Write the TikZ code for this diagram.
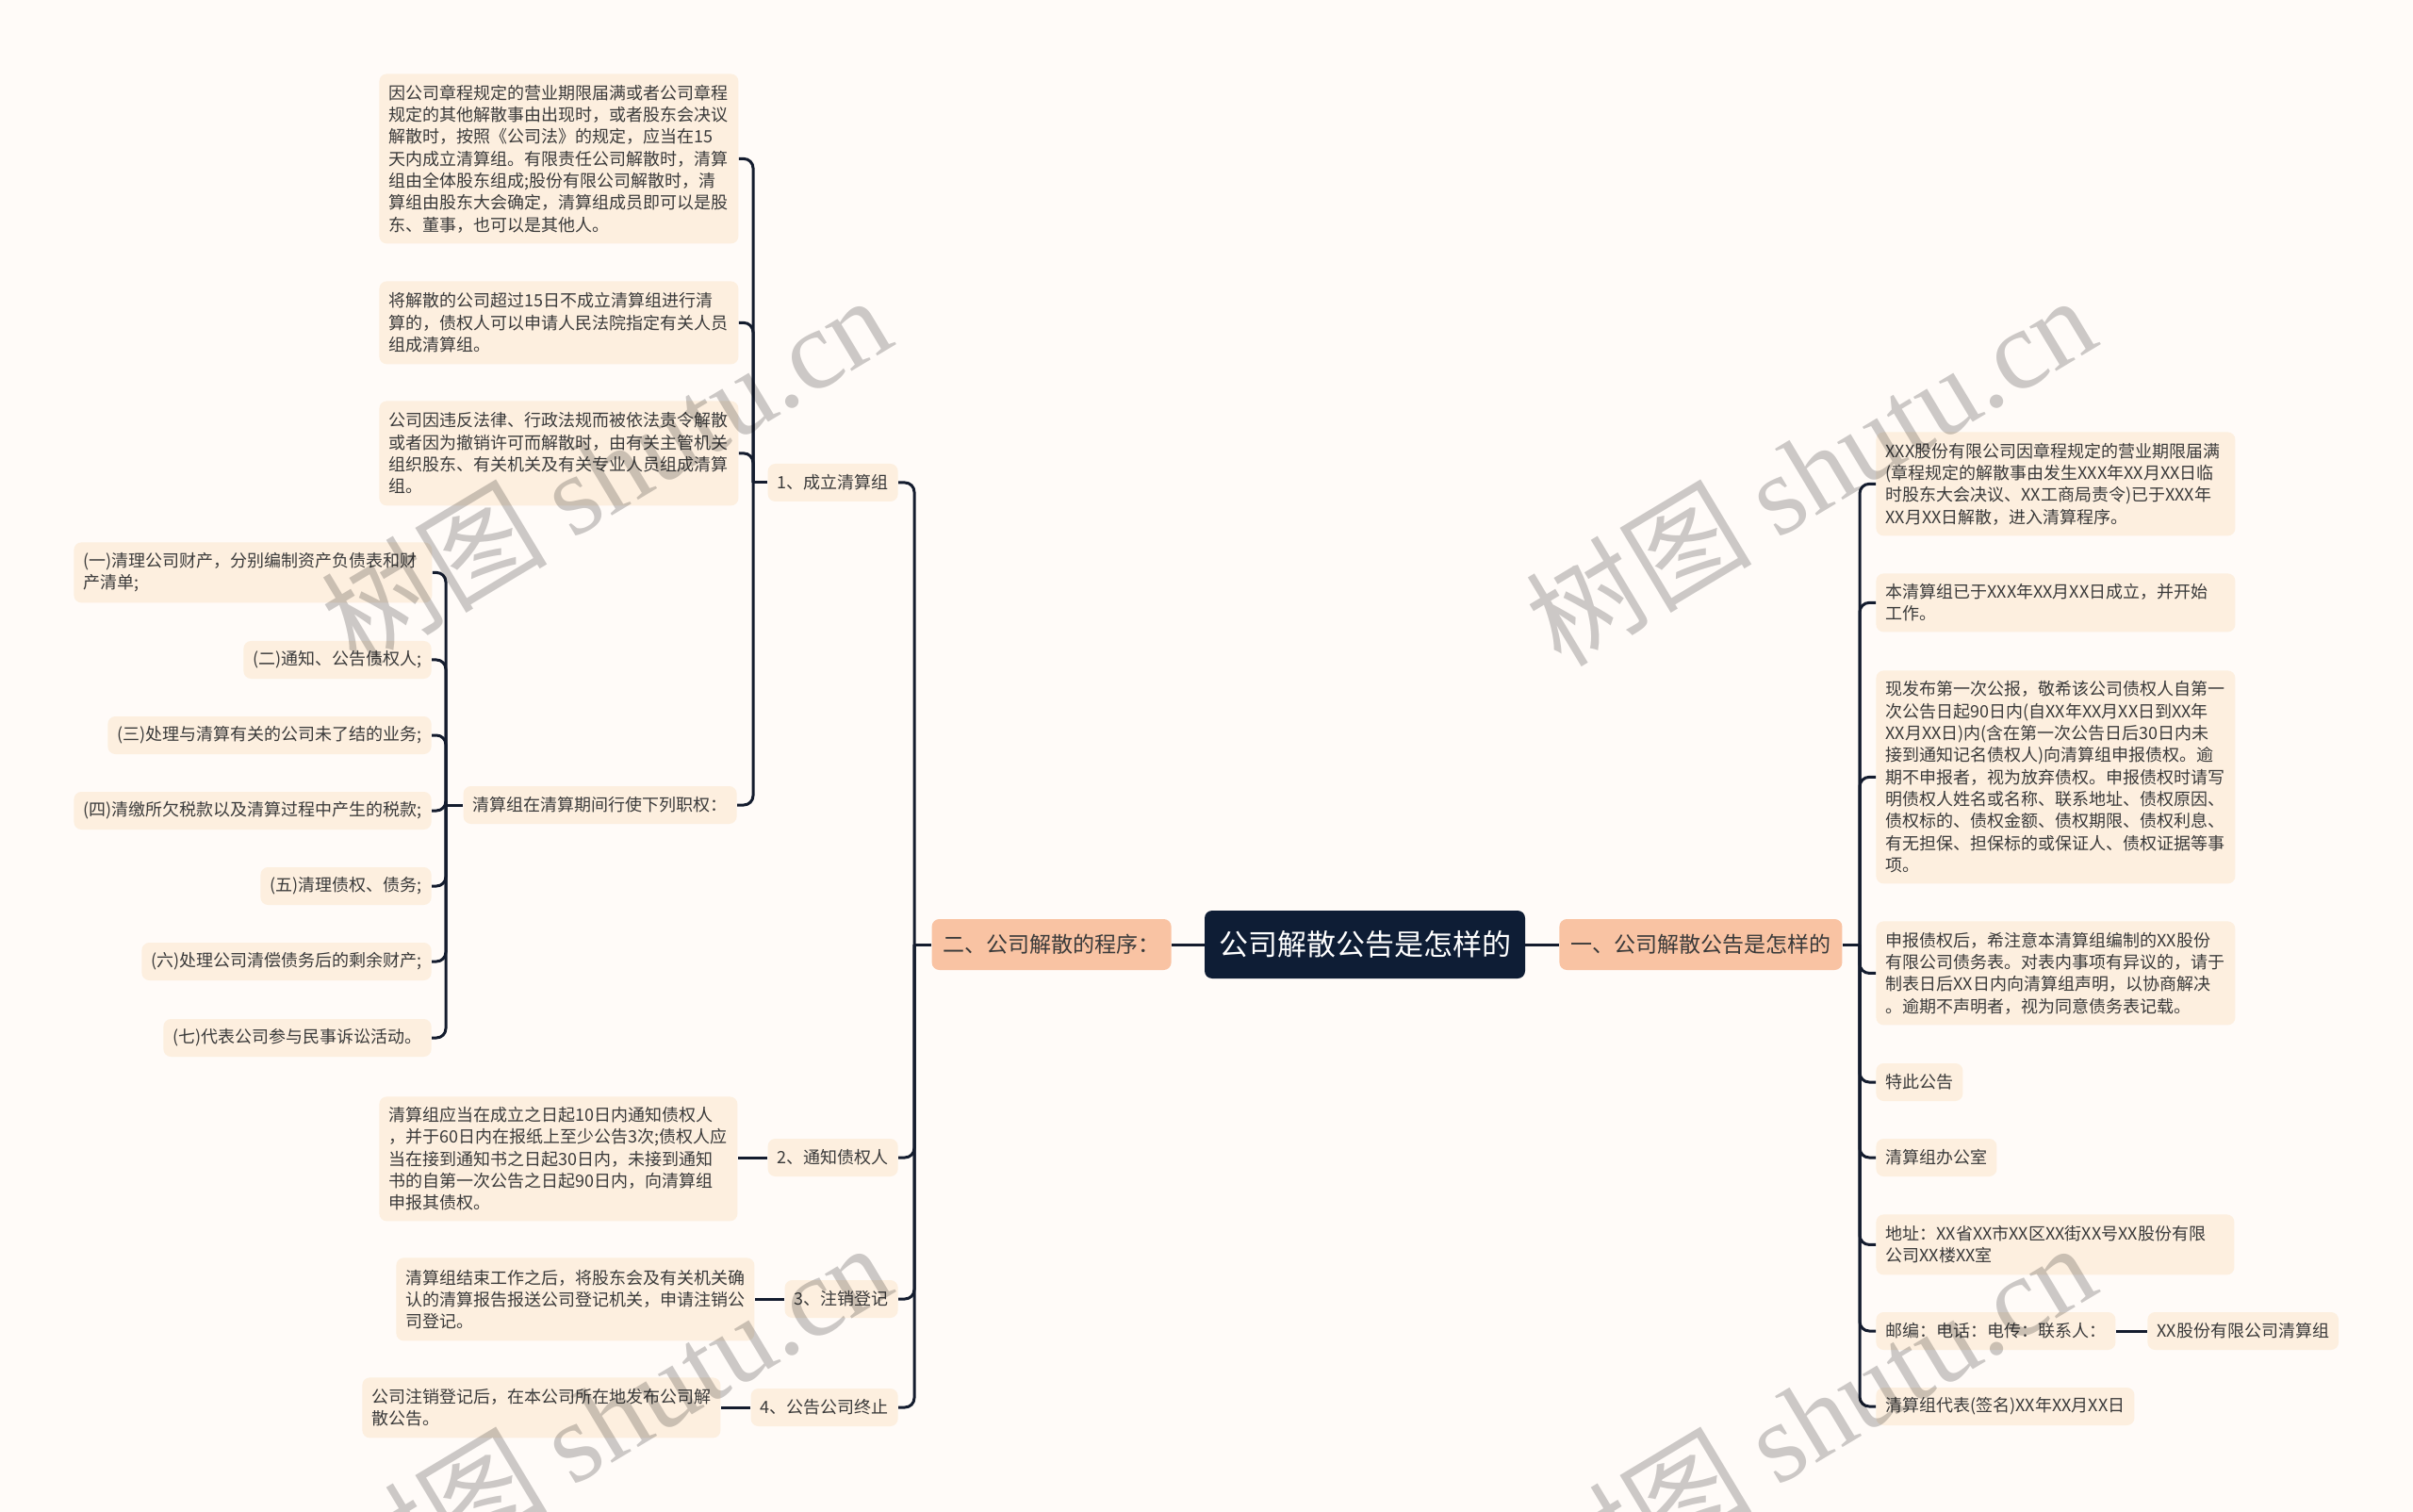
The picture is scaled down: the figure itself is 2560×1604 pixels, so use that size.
\documentclass[tikz,border=0pt]{standalone}
\usepackage{fontspec}
\setmainfont{Noto Sans CJK SC}
\newfontfamily\wmlatin{Liberation Serif}
\definecolor{bgc}{HTML}{FFFBF8}
\definecolor{leafc}{HTML}{FDEFDF}
\definecolor{lonec}{HTML}{F9C3A3}
\definecolor{rootc}{HTML}{0E1D35}
\definecolor{linec}{HTML}{141C2E}
\definecolor{txtc}{HTML}{3A3A3A}
\tikzset{
  leaf/.style={fill=leafc, rounded corners=4pt, inner xsep=5pt, inner ysep=3pt, text=txtc,
    font=\fontsize{9pt}{11.67pt}\selectfont, align=left, minimum height=20pt},
  lone/.style={fill=lonec, rounded corners=4pt, inner xsep=6pt, text=txtc,
    font=\fontsize{11.5pt}{14pt}\selectfont, minimum height=27pt},
  rootbox/.style={fill=rootc, rounded corners=4pt, inner xsep=7.5pt, text=white,
    font=\fontsize{15.5pt}{18pt}\selectfont, minimum height=36pt},
  conn/.style={draw=linec, line width=1.5pt, rounded corners=5pt},
  wm/.style={text=black, opacity=0.2, rotate=31, anchor=base, font=\fontsize{60pt}{62pt}\selectfont}
}
\begin{document}
\begin{tikzpicture}[x=0.5pt, y=-0.5pt]
\useasboundingbox (0,0) rectangle (2560,1604);
\clip (0,0) rectangle (2560,1604);
\fill[bgc] (0,0) rectangle (2560,1604);

% root and level one
\node[rootbox] (root) at (1448,1002) {公司解散公告是怎样的};
\node[lone, anchor=east] (L) at (1243,1002) {二、公司解散的程序：};
\node[lone, anchor=west] (R) at (1654,1002) {一、公司解散公告是怎样的};

% left side, level two
\node[leaf, anchor=east] (n1) at (953,512) {1、成立清算组};
\node[leaf, anchor=east] (n2) at (953,1228) {2、通知债权人};
\node[leaf, anchor=east] (n3) at (953,1378) {3、注销登记};
\node[leaf, anchor=east] (n4) at (953,1493) {4、公告公司终止};

% children of 1
\node[leaf, anchor=north west, text width=180.5pt, minimum height=90pt] (A1) at (402,78)
 {因公司章程规定的营业期限届满或者公司章程\\规定的其他解散事由出现时，或者股东会决议\\解散时，按照《公司法》的规定，应当在15\\天内成立清算组。有限责任公司解散时，清算\\组由全体股东组成;股份有限公司解散时，清\\算组由股东大会确定，清算组成员即可以是股\\东、董事，也可以是其他人。};
\node[leaf, anchor=north west, text width=180.5pt, minimum height=44pt] (A2) at (402,298)
 {将解散的公司超过15日不成立清算组进行清\\算的，债权人可以申请人民法院指定有关人员\\组成清算组。};
\node[leaf, anchor=north west, text width=180.5pt, minimum height=55.5pt] (A3) at (402,425)
 {公司因违反法律、行政法规而被依法责令解散\\或者因为撤销许可而解散时，由有关主管机关\\组织股东、有关机关及有关专业人员组成清算\\组。};
\node[leaf, anchor=east] (E) at (782,854) {清算组在清算期间行使下列职权：};

% children of E
\node[leaf, anchor=north west, text width=180pt, minimum height=32pt] (B1) at (78,575)
 {(一)清理公司财产，分别编制资产负债表和财\\产清单;};
\node[leaf, anchor=east] (B2) at (458,700) {(二)通知、公告债权人;};
\node[leaf, anchor=east] (B3) at (458,780) {(三)处理与清算有关的公司未了结的业务;};
\node[leaf, anchor=east] (B4) at (458,860) {(四)清缴所欠税款以及清算过程中产生的税款;};
\node[leaf, anchor=east] (B5) at (458,940) {(五)清理债权、债务;};
\node[leaf, anchor=east] (B6) at (458,1020) {(六)处理公司清偿债务后的剩余财产;};
\node[leaf, anchor=east] (B7) at (458,1101) {(七)代表公司参与民事诉讼活动。};

% children of 2,3,4
\node[leaf, anchor=north west, text width=180pt, minimum height=66pt] (C1) at (402,1163)
 {清算组应当在成立之日起10日内通知债权人\\，并于60日内在报纸上至少公告3次;债权人应\\当在接到通知书之日起30日内，未接到通知\\书的自第一次公告之日起90日内，向清算组\\申报其债权。};
\node[leaf, anchor=north west, text width=180pt, minimum height=44pt] (C2) at (420,1334)
 {清算组结束工作之后，将股东会及有关机关确\\认的清算报告报送公司登记机关，申请注销公\\司登记。};
\node[leaf, anchor=north west, text width=180pt, minimum height=32pt] (C3) at (384,1461)
 {公司注销登记后，在本公司所在地发布公司解\\散公告。};

% right side
\node[leaf, anchor=north west, text width=180.5pt, minimum height=55pt] (D1) at (1990,458)
 {XXX股份有限公司因章程规定的营业期限届满\\(章程规定的解散事由发生XXX年XX月XX日临\\时股东大会决议、XX工商局责令)已于XXX年\\XX月XX日解散，进入清算程序。};
\node[leaf, anchor=north west, text width=180.5pt, minimum height=31pt] (D2) at (1990,608)
 {本清算组已于XXX年XX月XX日成立，并开始\\工作。};
\node[leaf, anchor=north west, text width=180.5pt, minimum height=113pt] (D3) at (1990,711)
 {现发布第一次公报，敬希该公司债权人自第一\\次公告日起90日内(自XX年XX月XX日到XX年\\XX月XX日)内(含在第一次公告日后30日内未\\接到通知记名债权人)向清算组申报债权。逾\\期不申报者，视为放弃债权。申报债权时请写\\明债权人姓名或名称、联系地址、债权原因、\\债权标的、债权金额、债权期限、债权利息、\\有无担保、担保标的或保证人、债权证据等事\\项。};
\node[leaf, anchor=north west, text width=180.5pt, minimum height=55pt] (D4) at (1990,977)
 {申报债权后，希注意本清算组编制的XX股份\\有限公司债务表。对表内事项有异议的，请于\\制表日后XX日内向清算组声明，以协商解决\\。逾期不声明者，视为同意债务表记载。};
\node[leaf, anchor=west] (D5) at (1990,1148) {特此公告};
\node[leaf, anchor=west] (D6) at (1990,1228) {清算组办公室};
\node[leaf, anchor=north west, text width=180pt, minimum height=32pt] (D7) at (1990,1288)
 {地址：XX省XX市XX区XX街XX号XX股份有限\\公司XX楼XX室};
\node[leaf, anchor=west] (D8) at (1990,1412) {邮编：电话：电传：联系人：};
\node[leaf, anchor=west] (D8b) at (2278,1412) {XX股份有限公司清算组};
\node[leaf, anchor=west] (D9) at (1990,1492) {清算组代表(签名)XX年XX月XX日};

% bracket columns
\coordinate (bL) at (970,0);
\coordinate (b1) at (799,0);
\coordinate (bE) at (473,0);
\coordinate (bR) at (1973,0);

% connectors
\draw[conn] (root.west) -- (L.east);
\draw[conn] (root.east) -- (R.west);

\draw[conn] (L.west) -- (L.west -| bL);
\foreach \c in {n1,n2,n3,n4} { \draw[conn] (L.west -| bL) |- (\c.east); }

\draw[conn] (n1.west) -- (n1.west -| b1);
\foreach \c in {A1,A2,A3,E} { \draw[conn] (n1.west -| b1) |- (\c.east); }

\draw[conn] (E.west) -- (E.west -| bE);
\foreach \c in {B1,B2,B3,B4,B5,B6,B7} { \draw[conn] (E.west -| bE) |- (\c.east); }

\draw[conn] (n2.west) -- (n2.west -| C1.east);
\draw[conn] (n3.west) -- (n3.west -| C2.east);
\draw[conn] (n4.west) -- (n4.west -| C3.east);

\draw[conn] (R.east) -- (R.east -| bR);
\foreach \c in {D1,D2,D3,D4,D5,D6,D7,D8,D9} { \draw[conn] (R.east -| bR) |- (\c.west); }
\draw[conn] (D8.east) -- (D8b.west);

% watermarks
\node[wm] (w1) at (666,537) {树图 {\wmlatin shutu.cn}};
\node[wm] (w2) at (1944,537) {树图 {\wmlatin shutu.cn}};
\node[wm] (w3) at (666,1542) {树图 {\wmlatin shutu.cn}};
\node[wm] (w4) at (1944,1542) {树图 {\wmlatin shutu.cn}};
\end{tikzpicture}
\end{document}
